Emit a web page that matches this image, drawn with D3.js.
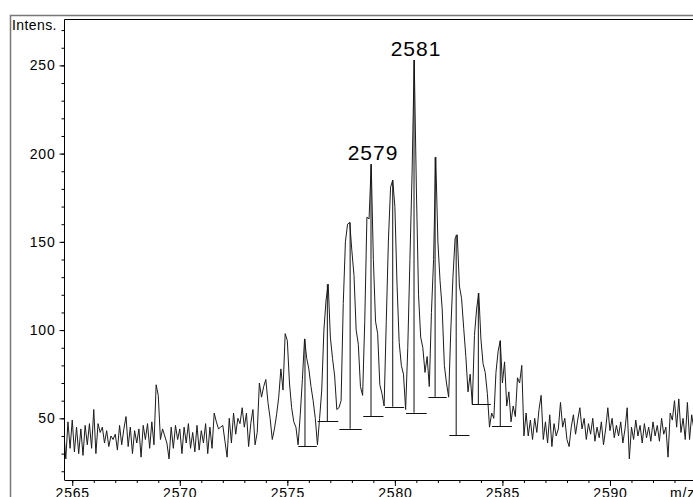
<!DOCTYPE html>
<html>
<head>
<meta charset="utf-8">
<script src="https://cdn.jsdelivr.net/npm/d3@7"></script>
<style>
  html, body { margin: 0; padding: 0; background: #fff; }
  svg { display: block; font-family: "Liberation Sans", Arial, sans-serif; }
</style>
</head>
<body>
<div id="chart"></div>
<script>
// profile sampled every 0.1 m/z, starting at 2564.6
const mzStart = 2564.6;
const mzStep = 0.1;
const intensity = [
  44, 27, 48, 33,
  49, 31, 45, 30, 44, 29, 46, 35, 47, 33,
  55, 30, 47, 42, 45, 36, 43, 34, 40, 38,
  41, 32, 46, 35, 44, 51, 34, 45, 30, 43,
  36, 44, 28, 46, 38, 47, 33, 48, 35, 69,
  63, 38, 44, 40, 36, 27, 45, 33, 46, 38,
  44, 30, 45, 36, 47, 33, 42, 31, 46, 32,
  43, 36, 47, 30, 45, 33, 53, 48, 44, 45,
  46, 37, 28, 50, 36, 53, 41, 50, 47, 56,
  45, 53, 34, 47, 55, 35, 42, 70, 62, 68,
  72, 59, 50, 38, 44, 52, 62, 78, 66, 98,
  94, 70, 56, 48, 45, 35, 52, 72, 95, 84,
  78, 68, 60, 50, 35, 50, 66, 100, 117, 126,
  96, 84, 74, 55, 56, 60, 115, 150, 160, 161,
  145, 131, 100, 92, 68, 63, 105, 164, 163, 194,
  140, 105, 98, 69, 64, 57, 105, 151, 181, 185,
  170, 126, 93, 80, 75, 55, 90, 140, 189, 253,
  180, 120, 96, 90, 76, 85, 68, 110, 140, 198,
  150, 128, 112, 80, 70, 62, 100, 130, 152, 154,
  125, 118, 101, 85, 65, 75, 58, 97, 112, 121,
  95, 81, 76, 64, 45, 53, 50, 76, 88, 94,
  70, 82, 57, 65, 48, 57, 51, 73, 70, 80,
  40, 53, 40, 49, 38, 50, 42, 55, 63, 38,
  48, 36, 52, 34, 47, 40, 44, 59, 45, 50,
  38, 34, 45, 52, 41, 49, 56, 44, 50, 38,
  47, 41, 50, 37, 45, 39, 48, 35, 44, 56,
  43, 50, 39, 46, 40, 48, 36, 44, 56, 27,
  45, 38, 49, 40, 46, 36, 47, 39, 45, 37,
  48, 40, 46, 37, 50, 41, 45, 28, 53, 49,
  60, 45, 61, 42, 50, 38, 59, 38, 52, 44,
  40
];

// detected peaks: centroid, apex, baseline level and baseline span
const peakMz = [2575.82, 2576.86, 2577.92, 2578.89, 2579.90, 2580.89, 2581.87, 2582.85, 2583.88, 2584.90];
const peakTop = [95, 126, 161, 194, 185, 253, 198, 154, 121, 94];
const peakBase = [34.3, 48.3, 44.1, 51.3, 56.6, 53.2, 62.2, 40.4, 58.1, 45.6];
const baseFrom = [2575.51, 2576.41, 2577.42, 2578.53, 2579.54, 2580.52, 2581.56, 2582.53, 2583.58, 2584.51];
const baseTo = [2576.37, 2577.37, 2578.46, 2579.47, 2580.43, 2581.48, 2582.41, 2583.47, 2584.46, 2585.44];
const peakLabel = ["", "", "", "2579", "", "2581", "", "", "", ""];

const xMajorTicks = [2565, 2570, 2575, 2580, 2585, 2590];
const yMajorTicks = [50, 100, 150, 200, 250];

const width = 693;
const height = 497;
const plot = { left: 64.5, top: 19.5, right: 696, bottom: 480 };

const x = d3.scaleLinear().domain([2564.64, 2594]).range([plot.left, plot.right]);
const y = d3.scaleLinear().domain([15.05, 276]).range([plot.bottom, plot.top]);

const profile = intensity.map((v, i) => ({ mz: mzStart + i * mzStep, v }));

const svg = d3.select("#chart")
  .append("svg")
  .attr("width", width)
  .attr("height", height)
  .attr("viewBox", [0, 0, width, height]);

// outer panel frame
svg.append("path")
  .attr("d", `M10.5,${height + 2}V15.5H${width + 2}`)
  .attr("fill", "none")
  .attr("stroke", "#777")
  .attr("stroke-width", 1.5);

svg.append("defs")
  .append("clipPath")
  .attr("id", "plot-clip")
  .append("rect")
  .attr("x", plot.left)
  .attr("y", plot.top)
  .attr("width", plot.right - plot.left)
  .attr("height", plot.bottom - plot.top);

const g = svg.append("g").attr("clip-path", "url(#plot-clip)");

const line = d3.line()
  .x((d) => x(d.mz))
  .y((d) => y(d.v));

g.append("path")
  .datum(profile)
  .attr("fill", "none")
  .attr("stroke", "#1c1c1c")
  .attr("stroke-width", 1)
  .attr("stroke-linejoin", "round")
  .attr("d", line);

// peak baselines and centroid sticks
g.selectAll(".baseline")
  .data(peakMz)
  .join("line")
  .attr("class", "baseline")
  .attr("x1", (d, i) => x(baseFrom[i]))
  .attr("x2", (d, i) => x(baseTo[i]))
  .attr("y1", (d, i) => Math.round(y(peakBase[i])) + 0.5)
  .attr("y2", (d, i) => Math.round(y(peakBase[i])) + 0.5)
  .attr("stroke", "#111")
  .attr("stroke-width", 1);

g.selectAll(".stick")
  .data(peakMz)
  .join("line")
  .attr("class", "stick")
  .attr("x1", (d) => x(d))
  .attr("x2", (d) => x(d))
  .attr("y1", (d, i) => y(peakBase[i]))
  .attr("y2", (d, i) => y(peakTop[i]))
  .attr("stroke", "#111")
  .attr("stroke-width", 1);

svg.selectAll(".peak-label")
  .data(peakMz.filter((d, i) => peakLabel[i]))
  .join("text")
  .attr("class", "peak-label")
  .attr("x", (d) => x(d) + 2)
  .attr("y", (d) => y(peakTop[peakMz.indexOf(d)]) - 4.5)
  .attr("text-anchor", "middle")
  .attr("font-size", 21)
  .attr("letter-spacing", 1)
  .attr("fill", "#000")
  .text((d) => peakLabel[peakMz.indexOf(d)]);

// plot box top edge
svg.append("line")
  .attr("x1", plot.left)
  .attr("x2", width + 2)
  .attr("y1", plot.top)
  .attr("y2", plot.top)
  .attr("stroke", "#000");

// axes
const xMinor = d3.axisBottom(x).tickValues(d3.range(2565, 2594)).tickSize(3).tickFormat("");
const xMajor = d3.axisBottom(x).tickValues(xMajorTicks).tickSize(6).tickPadding(8).tickFormat(d3.format("d"));

const xAxisG = svg.append("g").attr("transform", `translate(0,${plot.bottom})`);
xAxisG.append("g").call(xMinor).call((a) => a.select(".domain").remove());
xAxisG.append("g").call(xMajor);
xAxisG.selectAll(".domain").attr("d", `M${plot.left},0.5H${width + 2}`).attr("stroke", "#000");
xAxisG.selectAll("text")
  .attr("y", 18)
  .attr("dy", 0)
  .attr("font-size", 14)
  .attr("letter-spacing", 0.8)
  .attr("font-family", "Liberation Sans, Arial, sans-serif")
  .attr("fill", "#000");

const yMinor = d3.axisLeft(y).tickValues(d3.range(20, 280, 10)).tickSize(3).tickFormat("");
const yMajor = d3.axisLeft(y).tickValues(yMajorTicks).tickSize(5).tickPadding(4);

const yAxisG = svg.append("g").attr("transform", `translate(${plot.left},0)`);
yAxisG.append("g").call(yMinor).call((a) => a.select(".domain").remove());
yAxisG.append("g").call(yMajor);
yAxisG.selectAll(".domain").attr("d", `M0,${plot.top}V${plot.bottom}`).attr("stroke", "#000");
yAxisG.selectAll("text")
  .attr("font-size", 14)
  .attr("letter-spacing", 0.8)
  .attr("font-family", "Liberation Sans, Arial, sans-serif")
  .attr("fill", "#000");

svg.append("text")
  .attr("x", 12)
  .attr("y", 30)
  .attr("font-size", 14)
  .attr("letter-spacing", 0.4)
  .attr("fill", "#000")
  .text("Intens.");

svg.append("text")
  .attr("x", 670)
  .attr("y", 498)
  .attr("font-size", 14)
  .attr("letter-spacing", 0.8)
  .attr("fill", "#000")
  .text("m/z");
</script>
</body>
</html>
